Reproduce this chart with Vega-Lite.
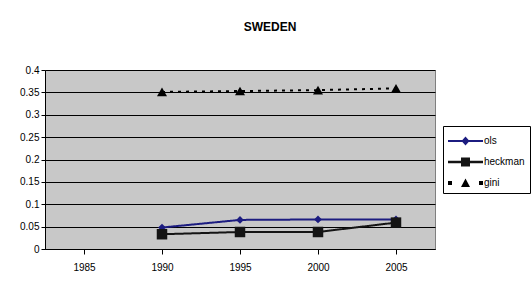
{
  "$schema": "https://vega.github.io/schema/vega-lite/v6.json",
  "autosize": "none",
  "width": 390,
  "height": 179,
  "padding": {"left": 45, "top": 70, "right": 97, "bottom": 42},
  "background": "white",
  "title": {"text": "SWEDEN", "font": "Liberation Sans", "fontSize": 12, "fontWeight": "bold", "color": "#000", "anchor": "middle", "dx": 30, "offset": 31, "frame": "group"},
  "config": {
    "view": {"fill": "#c8c8c8", "stroke": "#808080", "strokeWidth": 1},
    "axis": {"labelFont": "Liberation Sans", "labelFontSize": 10, "labelColor": "#000", "domainColor": "#000", "tickColor": "#000", "titleFont": "Liberation Sans"},
    "legend": {"orient": "none", "legendX": 398, "legendY": 56, "strokeColor": "#000", "fillColor": "#fff", "padding": 5, "labelFont": "Liberation Sans", "labelFontSize": 10, "labelColor": "#000", "rowPadding": 6, "labelLimit": 80, "labelOffset": 16, "title": null}
  },
  "data": {"values": [
    {"year": "1990", "series": "ols", "value": 0.048},
    {"year": "1995", "series": "ols", "value": 0.065},
    {"year": "2000", "series": "ols", "value": 0.066},
    {"year": "2005", "series": "ols", "value": 0.066},
    {"year": "1990", "series": "heckman", "value": 0.033},
    {"year": "1995", "series": "heckman", "value": 0.038},
    {"year": "2000", "series": "heckman", "value": 0.038},
    {"year": "2005", "series": "heckman", "value": 0.059},
    {"year": "1990", "series": "gini", "value": 0.351},
    {"year": "1995", "series": "gini", "value": 0.353},
    {"year": "2000", "series": "gini", "value": 0.355},
    {"year": "2005", "series": "gini", "value": 0.359}
  ]},
  "encoding": {
    "x": {"field": "year", "type": "ordinal", "scale": {"domain": ["1985", "1990", "1995", "2000", "2005"], "paddingInner": 0, "paddingOuter": 0},
      "axis": {"title": null, "labelAngle": 0, "ticks": true, "bandPosition": 1, "tickSize": 5, "labelPadding": 8, "domain": true}},
    "y": {"field": "value", "type": "quantitative", "scale": {"domain": [0, 0.4], "nice": false},
      "axis": {"title": null, "values": [0, 0.05, 0.1, 0.15, 0.2, 0.25, 0.3, 0.35, 0.4], "format": ".2~f", "grid": true, "gridColor": "#000", "gridWidth": 1, "gridOpacity": 1, "tickSize": 4, "labelPadding": 2, "domain": true}},
    "color": {"field": "series", "type": "nominal", "scale": {"domain": ["ols", "heckman", "gini"], "range": ["#1c1c80", "#141414", "#000000"]},
      "legend": {"symbolSize": 400, "symbolStrokeWidth": 0, "encode": {"symbols": {"update": {
        "shape": {"signal": "datum.value === 'ols' ? 'M-1,-0.1H2.5V0.1H-1Z M0.75,-0.45L1.15,0L0.75,0.45L0.35,0Z' : datum.value === 'heckman' ? 'M-1,-0.12H2.5V0.12H-1Z M0.3,-0.45H1.2V0.45H0.3Z' : 'M-1,-0.2H-0.6V0.2H-1Z M0.75,-0.45L1.2,0.4H0.3Z M2.1,-0.2H2.5V0.2H2.1Z'"},
        "size": {"value": 400},
        "strokeWidth": {"value": 0},
        "opacity": {"value": 1}
      }}}}}
  },
  "layer": [
    {
      "mark": {"type": "line", "strokeCap": "butt", "strokeWidth": 2},
      "encoding": {
        "strokeDash": {"field": "series", "type": "nominal", "scale": {"domain": ["ols", "heckman", "gini"], "range": [[1, 0], [1, 0], [3, 5]]}}
      }
    },
    {
      "transform": [{"filter": "datum.series === 'ols'"}],
      "mark": {"type": "point", "filled": true, "opacity": 1, "shape": "diamond", "size": 60}
    },
    {
      "transform": [{"filter": "datum.series === 'heckman'"}],
      "mark": {"type": "point", "filled": true, "opacity": 1, "shape": "square", "size": 110}
    },
    {
      "transform": [{"filter": "datum.series === 'gini'"}],
      "mark": {"type": "point", "filled": true, "opacity": 1, "shape": "triangle-up", "size": 100}
    }
  ]
}
